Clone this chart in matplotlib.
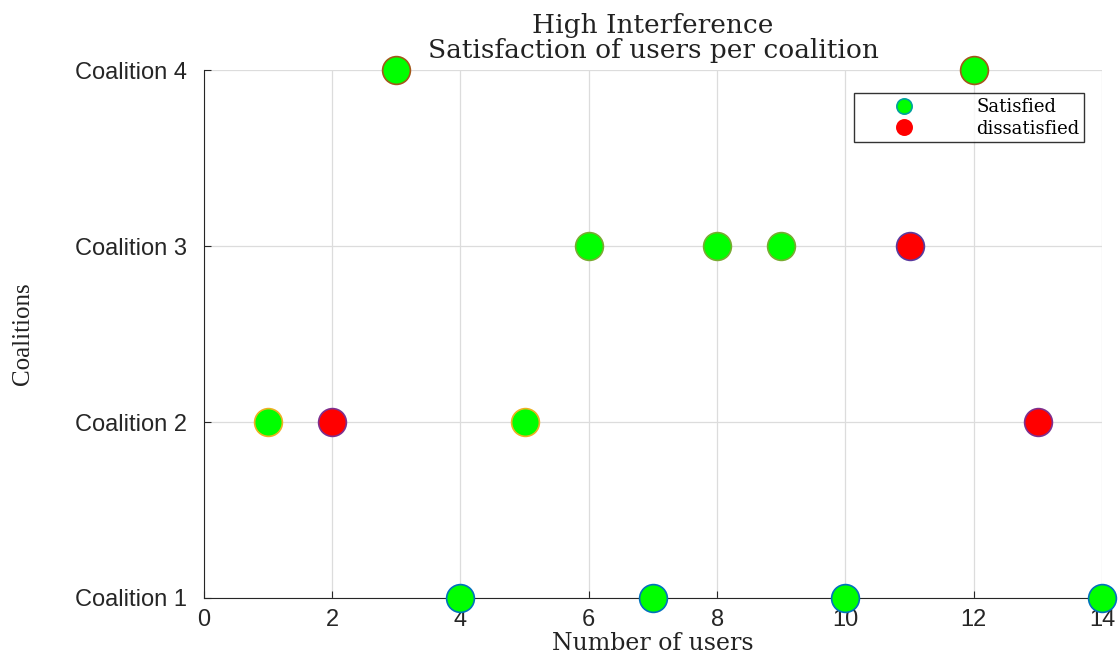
import matplotlib.pyplot as plt

# users per coalition (x = user index, y = coalition number)
sat_x = [4, 7, 10, 14, 1, 5, 6, 8, 9, 3, 12]
sat_y = [1, 1, 1, 1, 2, 2, 3, 3, 3, 4, 4]
dis_x = [2, 13, 11]
dis_y = [2, 2, 3]

coalition_labels = ['Coalition 1', 'Coalition 2', 'Coalition 3', 'Coalition 4']

# marker edge colour per coalition (matlab default order)
sat_edge = {1: '#0072BD', 2: '#EDB120', 3: '#77AC30', 4: '#A2571A'}
dis_edge = {2: '#7E2F8E', 3: '#5A3A9E'}

serif = ['DejaVu Serif']
sans = ['Liberation Sans', 'DejaVu Sans']

fig = plt.figure(figsize=(11.2, 6.62), dpi=100)
ax = fig.add_axes([0.182, 0.0967, 0.802, 0.7973])

for i, (x, y) in enumerate(zip(sat_x, sat_y)):
    ax.plot(x, y, 'o', ms=20, mfc='#00FF00', mec=sat_edge[y], mew=1.2,
            clip_on=False, zorder=3, label='Satisfied' if i == 0 else None)
for i, (x, y) in enumerate(zip(dis_x, dis_y)):
    ax.plot(x, y, 'o', ms=20, mfc='#FF0000', mec=dis_edge[y], mew=1.2,
            clip_on=False, zorder=3, label='dissatisfied' if i == 0 else None)

ax.set_xlim(0, 14)
ax.set_ylim(1, 4)
ax.set_xticks(range(0, 15, 2))
ax.set_yticks([1, 2, 3, 4])
ax.set_yticklabels(coalition_labels)
ax.tick_params(direction='in', length=5, labelsize=17, colors='#262626')
ax.tick_params(axis='x', pad=8)
ax.tick_params(axis='y', pad=12)
for lab in ax.get_xticklabels() + ax.get_yticklabels():
    lab.set_family(sans)

ax.grid(True, color='#dcdcdc', lw=0.9)
ax.set_axisbelow(True)
ax.spines['top'].set_visible(False)
ax.spines['right'].set_visible(False)
ax.spines['left'].set_color('#262626')
ax.spines['bottom'].set_color('#262626')

ax.set_title('High Interference\nSatisfaction of users per coalition',
             family=serif, fontsize=19, linespacing=1.0, pad=9, color='#222222')
ax.set_xlabel('Number of users', family=serif, fontsize=17, labelpad=1, color='#222222')
ax.set_ylabel('Coalitions', family=['Liberation Serif'], fontsize=18, labelpad=30, color='#222222')

leg = ax.legend(loc='upper right', bbox_to_anchor=(0.99, 0.973), prop={'family': serif, 'size': 13},
                fancybox=False, edgecolor='black', markerscale=0.55, handletextpad=1.5,
                borderpad=0.25, labelspacing=0.2, handlelength=5.0)
leg.get_frame().set_linewidth(1.0)
leg.legend_handles[0].set_markeredgecolor('#00A0A0')
leg.legend_handles[1].set_markeredgecolor('#FF0000')

plt.savefig('out.png')
